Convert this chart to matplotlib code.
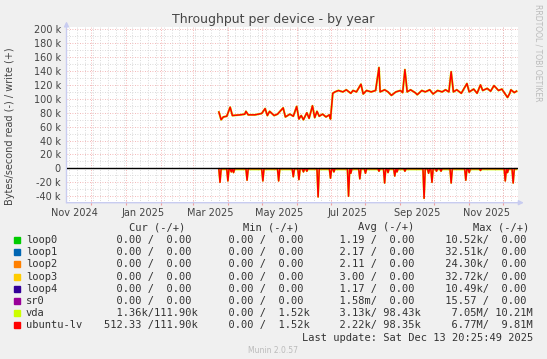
import pandas as pd
import matplotlib
matplotlib.use("Agg")
import matplotlib.pyplot as plt
from matplotlib.patches import Rectangle

W, H = 547, 359

# write (+) throughput of ubuntu-lv (vda runs right under it), kB/s
write_dates = [
    "2025-03-24", "2025-03-26", "2025-03-28", "2025-03-31", "2025-04-03", "2025-04-05",
    "2025-04-12", "2025-04-16", "2025-04-17", "2025-04-19", "2025-04-25", "2025-05-01",
    "2025-05-04", "2025-05-06", "2025-05-08", "2025-05-12", "2025-05-15", "2025-05-20",
    "2025-05-22", "2025-05-26", "2025-05-29", "2025-06-01", "2025-06-03", "2025-06-05",
    "2025-06-07", "2025-06-10", "2025-06-12", "2025-06-15", "2025-06-17", "2025-06-19",
    "2025-06-21", "2025-06-24", "2025-06-27", "2025-06-30", "2025-07-01", "2025-07-03",
    "2025-07-05", "2025-07-08", "2025-07-12", "2025-07-15", "2025-07-19", "2025-07-21",
    "2025-07-24", "2025-07-28", "2025-07-30", "2025-08-02", "2025-08-06", "2025-08-10",
    "2025-08-13", "2025-08-14", "2025-08-18", "2025-08-21", "2025-08-24", "2025-08-28",
    "2025-09-01", "2025-09-03", "2025-09-05", "2025-09-07", "2025-09-10", "2025-09-14",
    "2025-09-16", "2025-09-20", "2025-09-23", "2025-09-27", "2025-09-30", "2025-10-04",
    "2025-10-08", "2025-10-11", "2025-10-14", "2025-10-16", "2025-10-18", "2025-10-21",
    "2025-10-25", "2025-10-30", "2025-11-01", "2025-11-05", "2025-11-08", "2025-11-11",
    "2025-11-13", "2025-11-17", "2025-11-20", "2025-11-23", "2025-11-27", "2025-11-30",
    "2025-12-05", "2025-12-07", "2025-12-08", "2025-12-11", "2025-12-13",
]
write_k = [
    81, 70, 74, 75, 88, 76,
    77, 78, 82, 77, 77, 79,
    86, 76, 82, 76, 78, 87,
    74, 78, 75, 89, 71, 76,
    70, 80, 72, 90, 73, 82,
    75, 78, 74, 77, 71, 108,
    110, 112, 110, 113, 108, 112,
    110, 121, 107, 112, 110, 112,
    145, 110, 113, 110, 105, 110,
    112, 109, 142, 110, 113, 109,
    106, 112, 110, 113, 107, 112,
    110, 113, 110, 139, 110, 113,
    108, 122, 110, 114, 108, 120,
    112, 115, 111, 119, 112, 114,
    102, 108, 113, 109, 111,
]

# read (-) spikes, kB/s
read_dates = [
    "2025-03-25", "2025-04-01", "2025-04-04", "2025-04-06", "2025-04-18", "2025-05-02",
    "2025-05-16", "2025-05-29", "2025-06-03", "2025-06-07", "2025-06-10", "2025-06-20",
    "2025-07-01", "2025-07-04", "2025-07-17", "2025-07-19", "2025-07-27", "2025-08-01",
    "2025-08-13", "2025-08-18", "2025-08-21", "2025-08-27", "2025-08-29", "2025-09-05",
    "2025-09-22", "2025-09-26", "2025-09-29", "2025-10-03", "2025-10-07", "2025-10-16",
    "2025-10-29", "2025-11-01", "2025-11-11", "2025-12-03", "2025-12-05", "2025-12-10",
]
read_k = [
    -20, -18, -5, -6, -17, -18,
    -18, -12, -16, -5, -4, -41,
    -14, -5, -40, -7, -15, -7,
    -4, -21, -6, -11, -5, -4,
    -43, -7, -20, -4, -4, -21,
    -17, -6, -3, -18, -6, -21,
]
read_base_lv = -0.4
read_base_vda = -1.5
data_start, data_end = "2025-03-24", "2025-12-13"

legend_names = ["loop0", "loop1", "loop2", "loop3", "loop4", "sr0", "vda", "ubuntu-lv"]
legend_colors = ["#00CC00", "#0066B3", "#FF8000", "#FFCC00", "#330099", "#990099", "#CCFF00", "#FF0000"]
cur_col = ["  0.00 /  0.00 "] * 6 + ["  1.36k/111.90k", "512.33 /111.90k"]
min_col = ["  0.00 /  0.00 "] * 6 + ["  0.00 /  1.52k", "  0.00 /  1.52k"]
avg_col = ["  1.19 /  0.00 ", "  2.17 /  0.00 ", "  2.11 /  0.00 ", "  3.00 /  0.00 ",
           "  1.17 /  0.00 ", "  1.58m/  0.00 ", "  3.13k/ 98.43k", "  2.22k/ 98.35k"]
max_col = [" 10.52k/  0.00 ", " 32.51k/  0.00 ", " 24.30k/  0.00 ", " 32.72k/  0.00 ",
           " 10.49k/  0.00 ", " 15.57 /  0.00 ", "  7.05M/ 10.21M", "  6.77M/  9.81M"]


def read_series(base):
    d = [pd.Timestamp(data_start)]
    v = [base]
    for day, val in zip(read_dates, read_k):
        t = pd.Timestamp(day)
        d += [t - pd.Timedelta(days=1), t, t + pd.Timedelta(days=1)]
        v += [base, val, base]
    d.append(pd.Timestamp(data_end))
    v.append(base)
    return d, v


t0 = pd.Timestamp("2024-11-08 20:25:49")
t1 = pd.Timestamp("2025-12-13 20:25:49")

fig = plt.figure(figsize=(W / 100, H / 100), dpi=100, facecolor="#F0F0F0")
ax = fig.add_axes([66.5 / W, 1 - 202.7 / H, 451 / W, 176 / H])
ax.set_facecolor("white")
ax.set_xlim(t0, t1)
ax.set_ylim(-49.3, 203.7)
for s in ax.spines.values():
    s.set_visible(False)

dot = (0, (1, 2))
for yv in range(-40, 201, 10):
    major = yv % 20 == 0
    ax.axhline(yv, color="#F0A0A0" if major else "#CFCFCF", lw=0.6, ls=dot, zorder=0)
for t in pd.date_range("2024-11-11", t1, freq="W-MON"):
    ax.axvline(t, color="#CFCFCF", lw=0.6, ls=dot, zorder=0)
months = pd.date_range("2024-12-01", t1, freq="MS")
for t in months:
    ax.axvline(t, color="#F0A0A0", lw=0.6, ls=dot, zorder=0)

wd = pd.to_datetime(write_dates)
ax.plot(wd, write_k, color="#CCFF00", lw=1.5, zorder=2)
ax.plot(wd, write_k, color="#FF0000", lw=1.1, zorder=3)
rd, rv = read_series(read_base_vda)
ax.plot(rd, rv, color="#CCFF00", lw=1.3, zorder=2)
rd, rv = read_series(read_base_lv)
ax.plot(rd, rv, color="#FF0000", lw=1.1, zorder=3)
ax.axhline(0, color="black", lw=1.0, zorder=4)

# axes with arrow heads
arrow = dict(arrowstyle="-|>", color="#C8CCF0", lw=1.0, mutation_scale=7, shrinkA=0, shrinkB=0)
ax.annotate("", xy=(1.014, 0), xytext=(0, 0), xycoords="axes fraction", arrowprops=arrow)
ax.annotate("", xy=(0, 1.03), xytext=(0, 0), xycoords="axes fraction", arrowprops=arrow)

yt = list(range(-40, 201, 20))
ax.set_yticks(yt, [("%d k" % v) if v else "0" for v in yt])
ax.tick_params(axis="y", length=0, pad=4, labelsize=7, labelcolor="#444444")

label_months = [pd.Timestamp(y, m, 16) for y, m in
                [(2024, 11), (2025, 1), (2025, 3), (2025, 5), (2025, 7), (2025, 9), (2025, 11)]]
ax.set_xticks(label_months, [t.strftime("%b %Y") for t in label_months])
ax.set_xticks(months, minor=True)
ax.tick_params(axis="x", which="major", length=0, pad=4, labelsize=7, labelcolor="#444444")
ax.tick_params(axis="x", which="minor", length=3, direction="inout", color="#F0A0A0", width=0.8)

fig.text(0.5, 1 - 19.3 / H, "Throughput per device - by year", ha="center", va="center",
         fontsize=9, color="#444444")
fig.text(10 / W, 1 - 126 / H, "Bytes/second read (-) / write (+)", rotation=90,
         ha="center", va="center", fontsize=7, color="#444444")
fig.text(538 / W, 1 - 4 / H, "RRDTOOL / TOBI OETIKER", rotation=270, ha="center", va="top",
         fontsize=5.5, color="#BBBBBB")

mono = dict(family="DejaVu Sans Mono", fontsize=7.5, color="#333333", va="center")
row0 = 227.5
for x, txt in zip([129, 243, 358, 473], ["Cur (-/+)", "Min (-/+)", "Avg (-/+)", "Max (-/+)"]):
    fig.text(x / W, 1 - row0 / H, txt, **mono)
for i, name in enumerate(legend_names):
    y = 240 + i * 12.2
    fig.add_artist(Rectangle((14 / W, 1 - (y + 3) / H), 6 / W, 6 / H,
                             transform=fig.transFigure, color=legend_colors[i]))
    fig.text(26 / W, 1 - y / H, name, **mono)
    for x, col in zip([104, 216, 327, 439.3], [cur_col, min_col, avg_col, max_col]):
        fig.text(x / W, 1 - y / H, col[i], **mono)
fig.text(533 / W, 1 - 337.8 / H, "Last update: Sat Dec 13 20:25:49 2025", ha="right", **mono)
fig.text(272.8 / W, 1 - 350.5 / H, "Munin 2.0.57", ha="center", va="center",
         fontsize=5.5, color="#BBBBBB")

fig.savefig("out.png", dpi=100, facecolor=fig.get_facecolor())
